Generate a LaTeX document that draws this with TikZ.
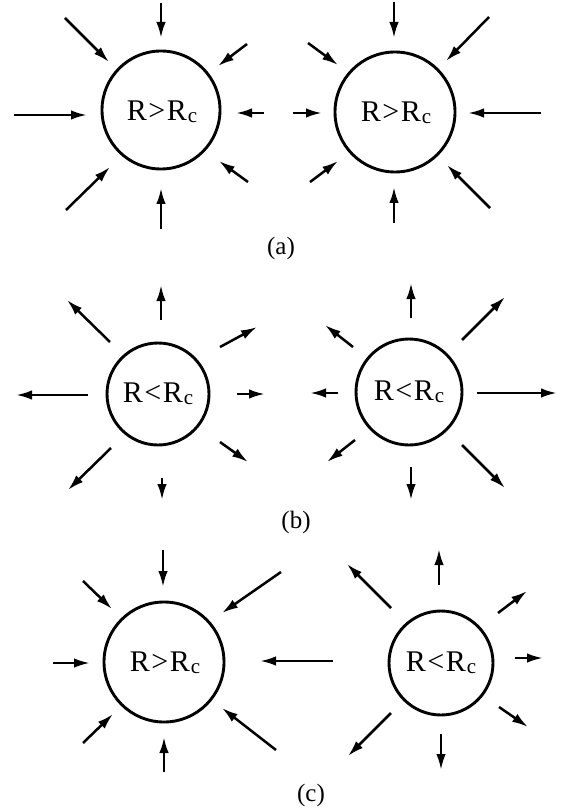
\documentclass[tikz,border=0pt]{standalone}
\usepackage{fontspec}
\setmainfont{Liberation Serif}
\usetikzlibrary{arrows.meta}
\tikzset{
  ring/.style={circle, draw, line width=2.9pt, inner sep=0pt},
  flux/.style={line width=2.5pt, -{Latex[length=16pt,width=9.5pt]}},
  caption/.style={font=\fontsize{25}{28}\selectfont, inner sep=0pt},
  ratio/.style={font=\fontsize{30}{33}\selectfont, inner sep=0pt},
}
% one arrow between two named end points
\newcommand{\flow}[3]{\coordinate (#1s) at #2; \coordinate (#1e) at #3; \draw[flux] (#1s) -- (#1e);}
\newcommand{\RgtRc}{R\kern1.5pt>\kern1.5ptR\kern1pt\raisebox{-2pt}{\fontsize{21}{22}\selectfont c}}
\newcommand{\RltRc}{R\kern1.5pt<\kern1.5ptR\kern1pt\raisebox{-2pt}{\fontsize{21}{22}\selectfont c}}
\begin{document}
\begin{tikzpicture}[x=1pt, y=-1pt]
\useasboundingbox (0,0) rectangle (569,810);

% ---- (a): both spheres shrink, inward flow ----
\node[ring, minimum size=118pt] (a1) at (161,110) {};
\node[ratio] (a1t) at (162,112) {\RgtRc};
\flow{a1n}{(161,3)}{(161,38)}
\flow{a1nw}{(65,18)}{(109,62)}
\flow{a1ne}{(247,44)}{(218,66)}
\flow{a1w}{(14,115)}{(87,115)}
\flow{a1e}{(264,113)}{(236,113)}
\flow{a1sw}{(66,210)}{(110,167)}
\flow{a1se}{(248,182)}{(219,161)}
\flow{a1s}{(161,229)}{(161,188)}

\node[ring, minimum size=120pt] (a2) at (395,112) {};
\node[ratio] (a2t) at (396,113) {\RgtRc};
\flow{a2n}{(394,2)}{(394,38)}
\flow{a2nw}{(308,43)}{(338,65)}
\flow{a2ne}{(489,17)}{(446,61)}
\flow{a2w}{(293,113)}{(322,113)}
\flow{a2e}{(541,113)}{(468,113)}
\flow{a2sw}{(310,182)}{(338,161)}
\flow{a2se}{(490,208)}{(447,165)}
\flow{a2s}{(394,223)}{(394,187)}

\node[caption] (la) at (281,248) {(a)};

% ---- (b): both spheres grow, outward flow ----
\node[ring, minimum size=102pt] (b1) at (158,394) {};
\node[ratio] (b1t) at (b1.center) {\RltRc};
\flow{b1n}{(161,320)}{(161,285)}
\flow{b1nw}{(110,342)}{(67,300)}
\flow{b1ne}{(220,347)}{(257,327)}
\flow{b1w}{(88,395)}{(16,395)}
\flow{b1e}{(237,394)}{(265,394)}
\flow{b1sw}{(111,448)}{(68,490)}
\flow{b1se}{(220,442)}{(248,462)}
\flow{b1s}{(162,478)}{(162,500)}

\node[ring, minimum size=106pt] (b2) at (409,392) {};
\node[ratio] (b2t) at (b2.center) {\RltRc};
\flow{b2n}{(411,318)}{(411,283)}
\flow{b2nw}{(353,347)}{(325,325)}
\flow{b2ne}{(462,340)}{(505,297)}
\flow{b2w}{(338,393)}{(310,393)}
\flow{b2e}{(477,393)}{(557,393)}
\flow{b2sw}{(355,440)}{(327,462)}
\flow{b2se}{(462,445)}{(505,488)}
\flow{b2s}{(411,467)}{(411,500)}

\node[caption] (lb) at (296,522) {(b)};

% ---- (c): large sphere grows at the expense of the small one ----
\node[ring, minimum size=120pt] (c1) at (164,662) {};
\node[ratio] (c1t) at (165,663) {\RgtRc};
\flow{c1n}{(163,550)}{(163,587)}
\flow{c1nw}{(83,581)}{(112,609)}
\flow{c1ne}{(281,572)}{(222,613)}
\flow{c1w}{(53,663)}{(90,663)}
\flow{c1e}{(333,661)}{(260,661)}
\flow{c1sw}{(83,743)}{(113,714)}
\flow{c1se}{(276,750)}{(222,708)}
\flow{c1s}{(164,772)}{(164,737)}

\node[ring, minimum size=104pt] (c2) at (441,663) {};
\node[ratio] (c2t) at (c2.center) {\RltRc};
\flow{c2n}{(439,585)}{(439,549)}
\flow{c2nw}{(391,608)}{(347,564)}
\flow{c2ne}{(498,613)}{(527,591)}
\flow{c2e}{(515,658)}{(543,658)}
\flow{c2sw}{(391,713)}{(348,756)}
\flow{c2se}{(499,707)}{(528,727)}
\flow{c2s}{(441,734)}{(441,770)}

\node[caption] (lc) at (311,795) {(c)};
\end{tikzpicture}
\end{document}
